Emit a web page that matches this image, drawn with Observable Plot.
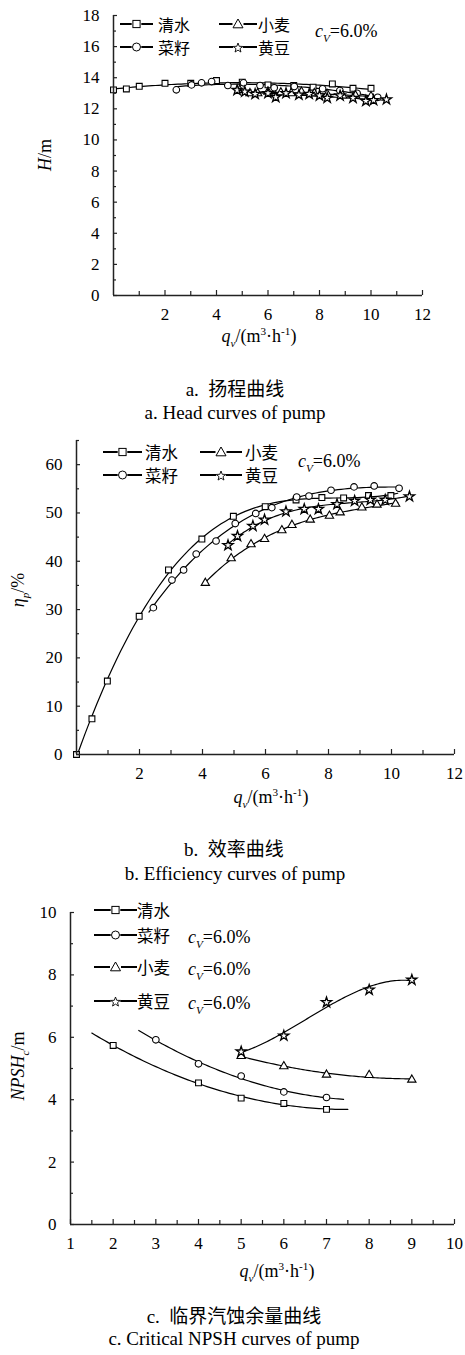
<!DOCTYPE html>
<html><head><meta charset="utf-8">
<script src="https://cdn.jsdelivr.net/npm/d3@7"></script>
<script src="https://cdn.jsdelivr.net/npm/@observablehq/plot@0.6"></script>
<style>
body{margin:0;background:#fff;}
#wrap{position:relative;width:465px;height:1355px;overflow:hidden;font-family:"Liberation Serif","Times New Roman",serif;color:#000;}
.t{position:absolute;white-space:nowrap;line-height:1;font-size:18px;}
.c{transform:translate(-50%,-50%);}
.l{transform:translate(0,-50%);}
.r{transform:translate(-50%,-50%) rotate(-90deg);}
.cn{font-family:"Noto Sans CJK SC",sans-serif;}
sub,sup{font-size:0.62em;line-height:0;}
svg text{font-family:"Liberation Serif","Times New Roman",serif;}
</style></head><body><div id="wrap"></div>
<script>
// ---------- Data: a. Head curves ----------
const headWaterQ = [0,0.5,1,2,3,4,5,6,7,7.75,8.5,9.3,10];
const headWaterH = [13.22,13.28,13.45,13.64,13.64,13.82,13.71,13.54,13.5,13.39,13.6,13.32,13.32];
const headRapeQ = [2.44,3.03,3.42,3.81,4.44,5.05,5.69,6.24,7.02,8.12,8.79,9.46,10.26];
const headRapeH = [13.22,13.54,13.67,13.75,13.5,13.67,13.5,13.35,13.43,13.29,13.18,13.0,12.74];
const headWheatQ = [4.9,5.3,5.6,6.0,6.5,6.9,7.3,7.8,8.3,8.9,9.4,10.0];
const headWheatH = [13.2,13.0,13.0,13.1,13.05,13.0,13.1,13.0,12.95,12.85,12.85,12.8];
const headSoyQ = [4.8,5.1,5.5,6.0,6.3,6.7,7.2,7.6,8.0,8.3,8.8,9.3,9.8,10.1,10.6];
const headSoyH = [13.2,13.1,12.95,13.0,12.75,13.0,12.9,12.95,12.85,12.7,12.85,12.7,12.5,12.55,12.6];

// ---------- Data: b. Efficiency curves ----------
const effWaterQ = [0,0.49,0.98,1.99,2.92,3.98,4.98,5.99,6.97,7.79,8.48,9.27,9.98];
const effWaterE = [0,7.4,15.2,28.6,38.2,44.6,49.3,51.3,52.7,53.2,53.1,53.6,53.6];
const effRapeQ = [2.44,3.03,3.40,3.80,4.43,5.04,5.69,6.20,6.99,7.38,8.08,8.81,9.45,10.24];
const effRapeE = [30.4,36.1,38.2,41.5,44.2,47.8,49.9,51.1,53.3,53.5,54.7,55.4,55.6,55.1];
const effWheatQ = [4.09,4.91,5.54,5.97,6.52,6.84,7.42,8.03,8.37,9.06,9.54,10.13];
const effWheatE = [35.5,40.6,43.5,44.6,46.4,47.5,48.6,49.4,50.1,51.1,51.7,51.9];
const effSoyQ = [4.81,5.11,5.60,5.97,6.65,7.23,7.68,8.27,8.83,9.33,9.80,10.57];
const effSoyE = [43.3,45.2,47.3,48.6,50.3,50.8,50.8,51.8,52.5,52.7,52.7,53.4];

// ---------- Data: c. Critical NPSH curves ----------
const npshWaterQ = [2,4,5,6,7];
const npshWaterN = [5.74,4.54,4.05,3.88,3.69];
const npshRapeQ = [3,4,5,6,7];
const npshRapeN = [5.92,5.15,4.76,4.25,4.07];
const npshWheatQ = [5,6,7,8,9];
const npshWheatN = [5.4,5.07,4.8,4.79,4.64];
const npshSoyQ = [5,6,7,8,9];
const npshSoyN = [5.54,6.05,7.12,7.52,7.84];

// labels
const seriesNames = ["清水","菜籽","小麦","黄豆"];
const seriesSymbols = ["square","circle","triangle","star"];
const cvText = "=6.0%";
const xTicksA = [2,4,6,8,10,12], yTicksA = [0,2,4,6,8,10,12,14,16,18];
const xTicksB = [2,4,6,8,10,12], yTicksB = [0,10,20,30,40,50,60];
const xTicksC = [1,2,3,4,5,6,7,8,9,10], yTicksC = [0,2,4,6,8,10];

// ---------- helpers ----------
function rows(qs, vs){ return qs.map((q,i)=>({q, v: vs[i]})); }
function polyfit(xs, ys, deg){
  const n = deg+1;
  const A = Array.from({length:n},()=>new Array(n+1).fill(0));
  for(let i=0;i<xs.length;i++){
    for(let r=0;r<n;r++){
      for(let c=0;c<n;c++) A[r][c]+=Math.pow(xs[i],r+c);
      A[r][n]+=ys[i]*Math.pow(xs[i],r);
    }
  }
  for(let col=0;col<n;col++){
    let piv=col; for(let r=col+1;r<n;r++) if(Math.abs(A[r][col])>Math.abs(A[piv][col])) piv=r;
    [A[col],A[piv]]=[A[piv],A[col]];
    for(let r=0;r<n;r++){ if(r===col) continue; const f=A[r][col]/A[col][col]; for(let c=col;c<=n;c++) A[r][c]-=f*A[col][c]; }
  }
  return A.map((row,i)=>row[n]/row[i]);
}
function fitLine(qs, vs, deg, lo, hi){
  const co = polyfit(qs, vs, deg);
  const pts = [];
  const N = 80;
  for(let i=0;i<=N;i++){ const x = lo+(hi-lo)*i/N; let y=0; co.forEach((c,k)=>y+=c*Math.pow(x,k)); pts.push({q:x, v:y}); }
  return pts;
}

const W = document.getElementById('wrap');
function txt(html, x, y, cls, extra){ const d=document.createElement('div'); d.className='t '+cls; d.style.left=x+'px'; d.style.top=y+'px'; d.innerHTML=html; if(extra) d.style.cssText+=extra; W.appendChild(d); return d; }

const SERIF = "Liberation Serif, Times New Roman, serif";
function panel(cfg){
  const {top,height,mt,mb,ml,mr,xd,yd,xt,yt,xMinor,yMinor,series,fits} = cfg;
  const innerH = height-mt-mb, innerW = 465-ml-mr;
  const uy = (yd[1]-yd[0])/innerH, ux = (xd[1]-xd[0])/innerW;
  const marks = [];
  fits.forEach(f=>marks.push(Plot.line(f,{x:"q",y:"v",stroke:"black",strokeWidth:1.2})));
  const rOf = {square:3.3,circle:3.3,triangle:3.1,star:3.2};
  series.forEach(s=>marks.push(Plot.dot(s.data,{x:"q",y:"v",symbol:()=>s.symbol,r:rOf[s.symbol],stroke:"black",fill:"white",strokeWidth:s.symbol==="star"?1.3:1.1})));
  marks.push(Plot.ruleY([yd[0]],{x1:xd[0],x2:xd[1],stroke:"#222",strokeWidth:1.5}));
  marks.push(Plot.ruleX([xd[0]],{y1:yd[0],y2:yd[1],stroke:"#222",strokeWidth:1.5}));
  marks.push(Plot.ruleX(xMinor,{x:d=>d,y1:yd[0],y2:yd[0]+4*uy,stroke:"#222",strokeWidth:1.2}));
  marks.push(Plot.ruleX(xt,{x:d=>d,y1:yd[0],y2:yd[0]+5*uy,stroke:"#222",strokeWidth:1.2}));
  marks.push(Plot.ruleY(yMinor,{y:d=>d,x1:xd[0],x2:xd[0]+3*ux,stroke:"#222",strokeWidth:1.2}));
  marks.push(Plot.ruleY(yt,{y:d=>d,x1:xd[0],x2:xd[0]+4*ux,stroke:"#222",strokeWidth:1.2}));
  marks.push(Plot.axisX({ticks:xt,tickSize:0,tickPadding:12,label:null,tickFormat:d=>String(d),fontFamily:SERIF,fontSize:17}));
  marks.push(Plot.axisY({ticks:yt,tickSize:0,tickPadding:14,label:null,tickFormat:d=>String(d),fontFamily:SERIF,fontSize:17}));
  const svg = Plot.plot({
    width:465,height,marginTop:mt,marginBottom:mb,marginLeft:ml,marginRight:mr,
    x:{domain:xd},y:{domain:yd},
    style:{fontFamily:SERIF,fontSize:"17px",color:"black",background:"white",overflow:"visible"},
    marks
  });
  svg.style.position="absolute"; svg.style.left="0px"; svg.style.top=top+"px";
  W.appendChild(svg);
}

panel({top:0,height:325,mt:15,mb:30,ml:113,mr:43,xd:[0,12],yd:[0,18],xt:xTicksA,yt:yTicksA,
  xMinor:[1,3,5,7,9,11],yMinor:[1,3,5,7,9,11,13,15,17],
  series:[{data:rows(headWaterQ,headWaterH),symbol:"square"},{data:rows(headRapeQ,headRapeH),symbol:"circle"},{data:rows(headWheatQ,headWheatH),symbol:"triangle"},{data:rows(headSoyQ,headSoyH),symbol:"star"}],
  fits:[fitLine(headWaterQ,headWaterH,2,0,10),fitLine(headRapeQ,headRapeH,2,2.4,10.3),fitLine(headWheatQ,headWheatH,2,4.8,10),fitLine(headSoyQ,headSoyH,2,4.8,10.6)]});
panel({top:430,height:354,mt:10,mb:30,ml:76,mr:11,xd:[0,12],yd:[0,65],xt:xTicksB,yt:yTicksB,
  xMinor:[1,3,5,7,9,11],yMinor:[5,15,25,35,45,55,65],
  series:[{data:rows(effWaterQ,effWaterE),symbol:"square"},{data:rows(effRapeQ,effRapeE),symbol:"circle"},{data:rows(effWheatQ,effWheatE),symbol:"triangle"},{data:rows(effSoyQ,effSoyE),symbol:"star"}],
  fits:[fitLine(effWaterQ,effWaterE,4,0,10.2),fitLine(effRapeQ,effRapeE,3,2.3,10.3),fitLine(effWheatQ,effWheatE,3,4.1,10.2),fitLine(effSoyQ,effSoyE,3,4.8,10.6)]});
panel({top:900,height:354,mt:12,mb:30,ml:70,mr:11,xd:[1,10],yd:[0,10],xt:xTicksC,yt:yTicksC,
  xMinor:[1.5,2.5,3.5,4.5,5.5,6.5,7.5,8.5,9.5],yMinor:[1,3,5,7,9],
  series:[{data:rows(npshWaterQ,npshWaterN),symbol:"square"},{data:rows(npshRapeQ,npshRapeN),symbol:"circle"},{data:rows(npshWheatQ,npshWheatN),symbol:"triangle"},{data:rows(npshSoyQ,npshSoyN),symbol:"star"}],
  fits:[fitLine(npshWaterQ,npshWaterN,2,1.5,7.5),fitLine(npshRapeQ,npshRapeN,2,2.6,7.4),fitLine(npshWheatQ,npshWheatN,2,5,9),fitLine(npshSoyQ,npshSoyN,3,5,9)]});

// ---------- legend symbols ----------
function symSvg(type, w){
  const cx=w/2, cy=7, gap=type==="triangle"?5.5:4.8;
  let s='';
  if(type==="square") s=`<rect x="${cx-3.6}" y="${cy-3.6}" width="7.2" height="7.2" fill="white" stroke="black" stroke-width="1"/>`;
  if(type==="circle") s=`<circle cx="${cx}" cy="${cy}" r="4" fill="white" stroke="black" stroke-width="1"/>`;
  if(type==="triangle") s=`<path d="M${cx},${cy-5}L${cx+5},${cy+3.8}L${cx-5},${cy+3.8}Z" fill="white" stroke="black" stroke-width="1"/>`;
  if(type==="star"){ let p=''; for(let i=0;i<10;i++){ const a=-Math.PI/2+i*Math.PI/5, rr=i%2?2.1:5; p+=(i?'L':'M')+(cx+rr*Math.cos(a)).toFixed(2)+','+(cy+1+rr*Math.sin(a)).toFixed(2);} s=`<path d="${p}Z" fill="white" stroke="black" stroke-width="0.9"/>`; }
  return `<svg width="${w}" height="14" style="display:block"><line x1="0" y1="${cy}" x2="${cx-gap}" y2="${cy}" stroke="black" stroke-width="2"/><line x1="${cx+gap}" y1="${cy}" x2="${w}" y2="${cy}" stroke="black" stroke-width="2"/>${s}</svg>`;
}
function legendItem(i, symX, textX, y, w, fs){
  txt(symSvg(seriesSymbols[i], w), symX, y, 'l');
  txt(seriesNames[i], textX, y, 'l cn', 'font-size:'+(fs||16.5)+'px;');
}
const cvHtml = `<i>c</i><sub><i>V</i></sub>${cvText}`;

legendItem(0,120,158,24,33,16); legendItem(2,219,258,24,38,16);
legendItem(1,120,158,47,33,16); legendItem(3,219,258,47,38,16);
txt(cvHtml,315,31,'l');
legendItem(0,103,145,452,39); legendItem(2,200,245,452,42);
legendItem(1,103,145,475,39); legendItem(3,200,245,475,42);
txt(cvHtml,298,461,'l');
legendItem(0,94,137,910,43);
legendItem(1,94,137,935,43); txt(cvHtml,188,937,'l');
legendItem(2,94,137,967,43); txt(cvHtml,188,969,'l');
legendItem(3,94,137,1001,43); txt(cvHtml,188,1003,'l');

// ---------- axis titles ----------
const qTitle = `<i>q</i><sub><i>v</i></sub>/(m<sup>3</sup>·h<sup>-1</sup>)`;
txt(qTitle,259,336,'c');
txt(qTitle,271,797,'c');
txt(qTitle,277,1271,'c');
txt(`<i>H</i>/m`,45,155,'r');
txt(`<i>η</i><sub><i>p</i></sub>/%`,18,590,'r');
txt(`<i>NPSH</i><sub><i>c</i></sub>/m`,18,1066,'r');

// ---------- panel captions ----------
txt(`a.&nbsp;&nbsp;<span class="cn" style="font-size:19px">扬程曲线</span>`,235,388,'c','font-size:19px;');
txt(`a. Head curves of pump`,235,412,'c','font-size:19px;');
txt(`b.&nbsp;&nbsp;<span class="cn" style="font-size:19px">效率曲线</span>`,234,848,'c','font-size:19px;');
txt(`b. Efficiency curves of pump`,235,873,'c','font-size:19px;');
txt(`c.&nbsp;&nbsp;<span class="cn" style="font-size:19px">临界汽蚀余量曲线</span>`,234,1315,'c','font-size:19px;');
txt(`c. Critical NPSH curves of pump`,234,1338,'c','font-size:19px;');
</script></body></html>
